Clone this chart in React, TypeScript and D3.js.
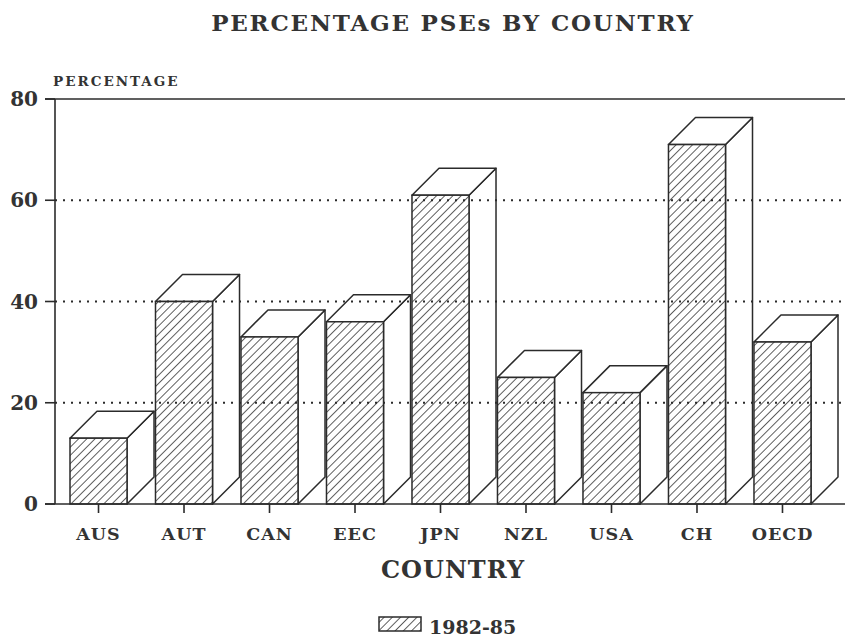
import React from 'react';
import * as d3 from 'd3';

const countries = ['AUS', 'AUT', 'CAN', 'EEC', 'JPN', 'NZL', 'USA', 'CH', 'OECD'];
const pse8285 = [13, 40, 33, 36, 61, 25, 22, 71, 32];
const yTicks = [0, 20, 40, 60, 80];
const gridTicks = [20, 40, 60];

const W = 845;
const H = 642;
const depth = 27;
const ink = '#2b2b2b';
const font = '"DejaVu Serif", "Liberation Serif", serif';

export default function App() {
  const x = d3.scaleBand<string>().domain(countries).range([70, 811]).paddingInner(0.333).paddingOuter(0);
  const y = d3.scaleLinear().domain([0, 80]).range([504, 99]);
  const bw = x.bandwidth();
  const axisLeft = 55;

  return (
    <svg width={W} height={H} style={{ position: 'absolute', left: 0, top: 0, background: '#fff' }}>
      <defs>
        <pattern id="hatch" patternUnits="userSpaceOnUse" width="5.8" height="5.8" patternTransform="rotate(45)">
          <rect width="5.8" height="5.8" fill="#fff" />
          <line x1="0" y1="0" x2="0" y2="5.8" stroke={ink} strokeWidth="1.5" />
        </pattern>
      </defs>

      <text x={453} y={31} textAnchor="middle" fontFamily={font} fontWeight="bold" fontSize={23} fill="#333" letterSpacing={1.8}>
        PERCENTAGE PSEs BY COUNTRY
      </text>
      <text x={53} y={86} fontFamily={font} fontWeight="bold" fontSize={13.5} fill="#333" letterSpacing={2}>
        PERCENTAGE
      </text>

      {/* frame */}
      <line x1={45} x2={W} y1={y(80)} y2={y(80)} stroke={ink} strokeWidth={1.6} />
      <line x1={axisLeft} x2={axisLeft} y1={y(80)} y2={y(0)} stroke={ink} strokeWidth={1.6} />

      {/* bars */}
      {countries.map((c, i) => {
        const x0 = x(c)!;
        const x1 = x0 + bw;
        const yt = y(pse8285[i]);
        const yb = y(0);
        return (
          <g key={c}>
            <path
              d={`M${x1},${yb} L${x1 + depth},${yb - depth} L${x1 + depth},${yt - depth} L${x1},${yt} Z`}
              fill="#fff" stroke={ink} strokeWidth={1.5} strokeLinejoin="round" />
            <path
              d={`M${x0},${yt} L${x0 + depth},${yt - depth} L${x1 + depth},${yt - depth} L${x1},${yt} Z`}
              fill="#fff" stroke={ink} strokeWidth={1.5} strokeLinejoin="round" />
            <rect x={x0} y={yt} width={bw} height={yb - yt} fill="url(#hatch)" stroke={ink} strokeWidth={1.5} />
          </g>
        );
      })}

      {/* dotted grid */}
      {gridTicks.map(t => (
        <line key={t} x1={axisLeft} x2={W} y1={y(t)} y2={y(t)} stroke={ink} strokeWidth={2} strokeDasharray="2 6" />
      ))}

      <line x1={45} x2={W} y1={y(0)} y2={y(0)} stroke={ink} strokeWidth={1.6} />

      {yTicks.map(t => (
        <g key={t} transform={`translate(0,${y(t)})`}>
          <line x1={45} x2={axisLeft} stroke={ink} strokeWidth={1.6} />
          <text x={38} dy="0.36em" textAnchor="end" fontFamily={font} fontWeight="bold" fontSize={20} fill="#333">
            {t}
          </text>
        </g>
      ))}

      {countries.map(c => {
        const cx = x(c)! + bw / 2;
        return (
          <g key={c} transform={`translate(${cx},0)`}>
            <line y1={y(0)} y2={y(0) + 9} stroke={ink} strokeWidth={1.6} />
            <text y={540} textAnchor="middle" fontFamily={font} fontWeight="bold" fontSize={17.5} fill="#333" letterSpacing={1}>
              {c}
            </text>
          </g>
        );
      })}

      <text x={453} y={578} textAnchor="middle" fontFamily={font} fontWeight="bold" fontSize={24} fill="#333" letterSpacing={1}>
        COUNTRY
      </text>

      <rect x={379} y={617} width={42} height={14} fill="url(#hatch)" stroke={ink} strokeWidth={1.5} />
      <text x={429} y={634} fontFamily={font} fontWeight="bold" fontSize={19} fill="#333">
        1982-85
      </text>
    </svg>
  );
}
